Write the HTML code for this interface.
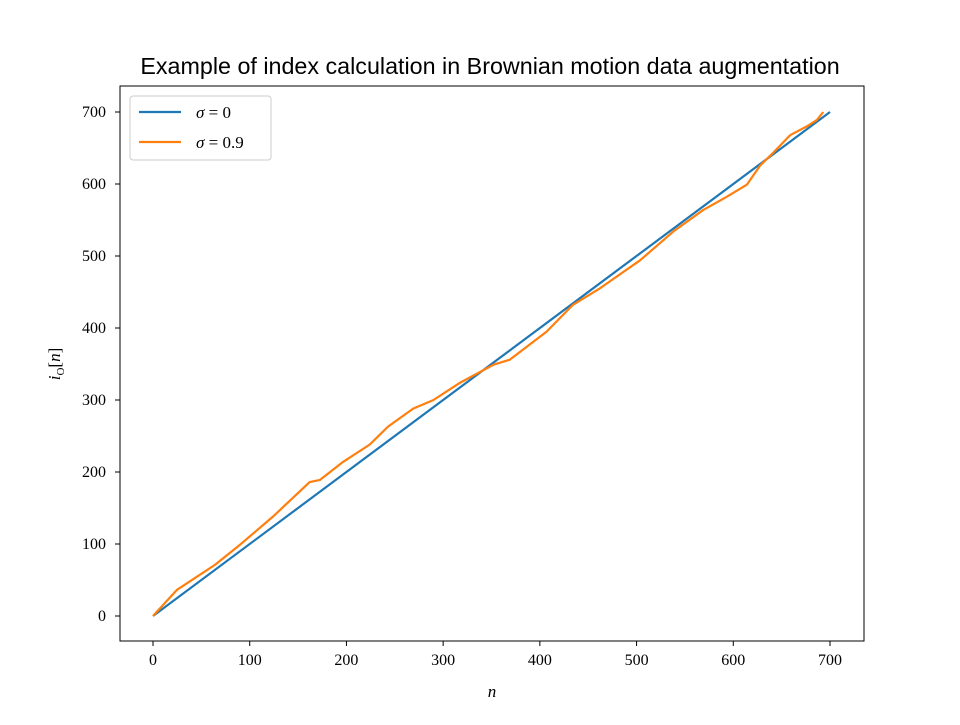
<!DOCTYPE html>
<html><head><meta charset="utf-8"><style>
body{margin:0;background:#fff;width:960px;height:720px;overflow:hidden}
svg text{font-family:"Liberation Serif",serif;fill:#000}
</style></head><body>
<svg width="960" height="720" id="c">
<rect x="0" y="0" width="960" height="720" fill="#fff"/>
<text x="490" y="74" text-anchor="middle" font-size="23.3" style="font-family:'Liberation Sans',sans-serif">Example of index calculation in Brownian motion data augmentation</text>
<g id="plot"></g>
<rect x="120" y="86" width="744" height="555" fill="none" stroke="#000" stroke-width="1"/>
<text x="492" y="697" text-anchor="middle" font-size="17" font-style="italic">n</text>
<text transform="translate(60,364) rotate(-90)" text-anchor="middle" font-size="17" font-style="italic">i<tspan font-size="11" font-style="normal" dy="4">O</tspan><tspan dy="-4" font-style="normal">[</tspan>n<tspan font-style="normal">]</tspan></text>
<g>
<rect x="130" y="96" width="141" height="64" rx="3" fill="#fff" stroke="#ccc"/>
<line x1="139" y1="112" x2="181" y2="112" stroke="#1f77b4" stroke-width="2.2"/>
<text x="196" y="118" font-size="17"><tspan font-style="italic">σ</tspan> = 0</text>
<line x1="139" y1="142" x2="181" y2="142" stroke="#ff7f0e" stroke-width="2.2"/>
<text x="196" y="148" font-size="17"><tspan font-style="italic">σ</tspan> = 0.9</text>
</g>
</svg>
<script>
const xTicks=[0,100,200,300,400,500,600,700];
const yTicks=[0,100,200,300,400,500,600,700];
const blueN=[0,700];
const blueV=[0,700];
const orangeN=[0, 24.5, 38, 64, 90, 124, 162, 172.7, 196.5, 224, 243, 269, 290, 317.5, 352, 369, 407, 434, 462, 503.6, 538, 569, 593, 614, 628, 641, 659, 676, 686.5, 693];
const orangeV=[0, 36,   48, 71, 99, 138, 186, 189,   214,   238, 263, 288, 300, 324,   349, 356, 395, 432, 455, 494,   534, 564, 582, 599, 626, 643, 668, 680, 689,   700];
const X=n=>153+n*(677/700), Y=v=>616-v*(504/700);
const g=document.getElementById('plot'), NS='http://www.w3.org/2000/svg';
function mk(t,a){const e=document.createElementNS(NS,t);for(const k in a)e.setAttribute(k,a[k]);g.appendChild(e);return e;}
xTicks.forEach(t=>{const l=mk('line',{x1:X(t),x2:X(t),y1:641,y2:646,stroke:'#000'});


const s=mk('text',{x:X(t),y:665,'text-anchor':'middle','font-size':16});s.textContent=t;

});
yTicks.forEach(t=>{const l=mk('line',{x1:115,x2:120,y1:Y(t),y2:Y(t),stroke:'#000'});


const s=mk('text',{x:106,y:Y(t)+5,'text-anchor':'end','font-size':16});s.textContent=t;

});
const pb=mk('polyline',{points:blueN.map((n,i)=>X(n)+','+Y(blueV[i])).join(' '),fill:'none',stroke:'#1f77b4','stroke-width':2.2});


const m=Math.min(orangeN.length,orangeV.length);
const po=mk('polyline',{points:orangeN.slice(0,m).map((n,i)=>X(n)+','+Y(orangeV[i])).join(' '),fill:'none',stroke:'#ff7f0e','stroke-width':2.2,'stroke-linejoin':'round'});


</script>
</body></html>
